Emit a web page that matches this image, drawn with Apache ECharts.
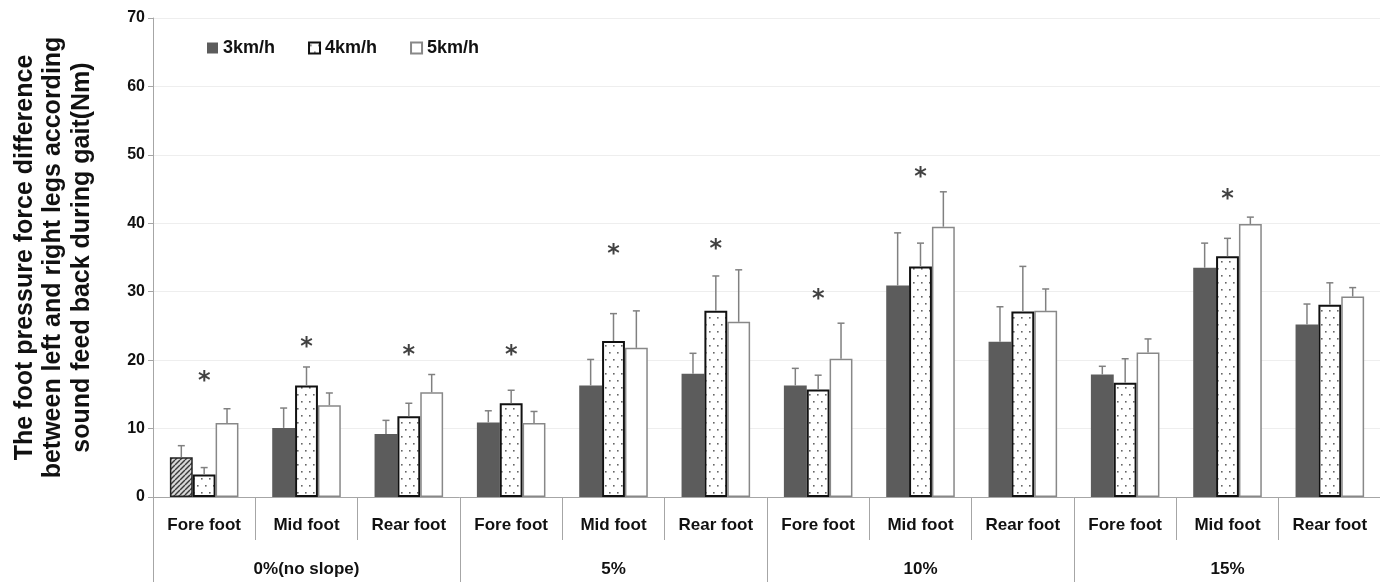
<!DOCTYPE html>
<html>
<head>
<meta charset="utf-8">
<script src="https://cdn.jsdelivr.net/npm/echarts@6/dist/echarts.min.js"></script>
<style>html,body{margin:0;padding:0;background:#fff}#c{width:1380px;height:582px}</style>
</head>
<body>
<div id="c"></div>
<script>
const categories = ['Fore foot','Mid foot','Rear foot','Fore foot','Mid foot','Rear foot','Fore foot','Mid foot','Rear foot','Fore foot','Mid foot','Rear foot'];
const groups = ['0%(no slope)','5%','10%','15%'];
const speeds = ['3km/h','4km/h','5km/h'];
const mean3 = [5.8,10.1,9.2,10.9,16.3,18.0,16.3,30.9,22.7,17.9,33.5,25.2];
const sd3   = [1.7,2.9,2.0,1.7,3.8,3.0,2.5,7.7,5.1,1.2,3.6,3.0];
const mean4 = [3.3,16.3,11.8,13.7,22.8,27.2,15.7,33.7,27.1,16.7,35.2,28.1];
const sd4   = [1.0,2.7,1.9,1.9,4.0,5.1,2.1,3.4,6.6,3.5,2.6,3.2];
const mean5 = [10.8,13.4,15.3,10.8,21.8,25.6,20.2,39.5,27.2,21.1,39.9,29.3];
const sd5   = [2.1,1.8,2.6,1.7,5.4,7.6,5.2,5.1,3.2,2.0,1.0,1.3];
const starY = [17.5,22.6,21.4,21.3,36.1,36.9,29.6,47.4,null,null,44.1,null];
const yTicks = {min:0,max:70,interval:10};

function dotPattern(){
  const c=document.createElement('canvas'); c.width=8; c.height=14;
  const g=c.getContext('2d'); g.fillStyle='#fff'; g.fillRect(0,0,8,14);
  g.fillStyle='#666';
  g.fillRect(1,2,1.6,1.6); g.fillRect(5,9,1.6,1.6);
  return c;
}
function hatchPattern(){
  const c=document.createElement('canvas'); c.width=5; c.height=5;
  const g=c.getContext('2d'); g.fillStyle='#d8d8d8'; g.fillRect(0,0,5,5);
  g.strokeStyle='#3a3a3a'; g.lineWidth=1.4;
  for(let k=-5;k<=10;k+=5){g.beginPath();g.moveTo(k,5);g.lineTo(k+5,0);g.stroke();}
  return c;
}
const dots={image:dotPattern(),repeat:'repeat'};
const hatch={image:hatchPattern(),repeat:'repeat'};
const FONT='"Liberation Sans",Arial,sans-serif';
const CAT_GAP=0.33;

const means=[mean3,mean4,mean5], sds=[sd3,sd4,sd5];
const barStyles=[
  {color:'#5c5c5c'},
  {color:dots,borderColor:'#111',borderWidth:2},
  {color:'#fff',borderColor:'#888',borderWidth:1.5}
];
const series=[];
speeds.forEach((s,k)=>{
  series.push({
    name:s,type:'bar',xAxisIndex:0,barGap:'0%',barCategoryGap:(CAT_GAP*100)+'%',
    itemStyle:barStyles[k],
    data:means[k].map((v,i)=>(k===0&&i===0)?{value:v,itemStyle:{color:hatch,borderColor:'#222',borderWidth:1.5}}:v),
    z:2
  });
});
speeds.forEach((s,k)=>{
  series.push({
    type:'custom',xAxisIndex:0,z:3,silent:true,
    data:means[k].map((v,i)=>[i,v,sds[k][i]]),
    encode:{x:0,y:1},
    renderItem:function(params,api){
      const i=api.value(0), m=api.value(1), sd=api.value(2);
      const band=api.size([1,0])[0];
      const bw=band*(1-CAT_GAP)/3;
      const cx=api.coord([i,0])[0]+(k-1)*bw;
      const yb=api.coord([i,m])[1], yt=api.coord([i,m+sd])[1];
      const st={stroke:'#808080',lineWidth:1.5};
      return {type:'group',children:[
        {type:'line',shape:{x1:cx,y1:yb,x2:cx,y2:yt},style:st},
        {type:'line',shape:{x1:cx-3.5,y1:yt,x2:cx+3.5,y2:yt},style:st}
      ]};
    }
  });
});
series.push({
  type:'scatter',xAxisIndex:0,symbolSize:1,itemStyle:{color:'rgba(0,0,0,0)'},silent:true,z:4,
  data:starY.map((v,i)=>v==null?null:[i,v]).filter(d=>d),
  label:{show:true,position:'inside',formatter:'*',fontSize:24,fontWeight:'bold',color:'#111',offset:[0,5],fontFamily:'"DejaVu Sans"'}
});

const chart=echarts.init(document.getElementById('c'),null,{renderer:'canvas'});
chart.setOption({
  animation:false,
  backgroundColor:'#fff',
  grid:{left:153,top:18,width:1228,bottom:85,containLabel:false,outerBoundsMode:'none'},
  legend:{
    data:speeds,left:202,top:34,itemWidth:11,itemHeight:11,itemGap:33,icon:'rect',
    textStyle:{fontSize:18,fontWeight:'bold',color:'#111',fontFamily:FONT}
  },
  xAxis:[
    {type:'category',data:categories,position:'bottom',
     axisLine:{show:true,lineStyle:{color:'#a6a6a6',width:1}},
     axisTick:{show:true,length:43,interval:0,lineStyle:{color:'#a6a6a6'}},
     axisLabel:{interval:0,margin:20,fontSize:17,fontWeight:'bold',color:'#111',fontFamily:FONT}},
    {type:'category',data:groups,position:'bottom',
     axisLine:{show:false},
     axisTick:{show:true,length:86,interval:0,lineStyle:{color:'#a6a6a6'}},
     axisLabel:{interval:0,margin:64,fontSize:17,color:'#111',fontWeight:'bold',fontFamily:FONT}}
  ],
  yAxis:{
    type:'value',min:yTicks.min,max:yTicks.max,interval:yTicks.interval,
    axisLine:{show:true,lineStyle:{color:'#a6a6a6'}},
    axisTick:{show:true,length:5,lineStyle:{color:'#a6a6a6'}},
    splitLine:{show:true,lineStyle:{color:'#eeeeee'}},
    axisLabel:{fontSize:16,fontWeight:'bold',color:'#111',margin:8,fontFamily:FONT},
    name:'The foot pressure force difference\nbetween left and right legs according\nsound feed back during gait(Nm)',
    nameLocation:'middle',nameGap:57,nameRotate:90,
    nameTextStyle:{fontSize:25,fontWeight:'bold',color:'#111',lineHeight:28.5,fontFamily:FONT,align:'center'}
  },
  series:series
});
</script>
</body>
</html>
